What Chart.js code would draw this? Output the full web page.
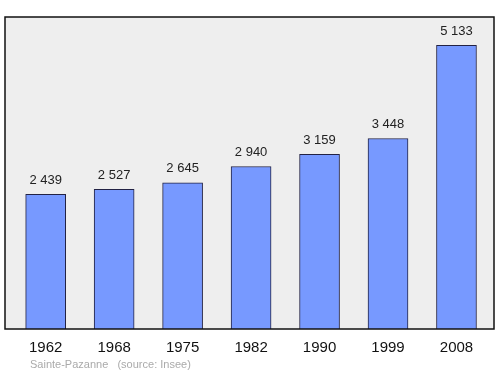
<!DOCTYPE html>
<html>
<head>
<meta charset="utf-8">
<script src="https://cdn.jsdelivr.net/npm/chart.js@4/dist/chart.umd.min.js"></script>
<style>
html,body{margin:0;padding:0;background:#fff;}
#wrap{width:500px;height:374px;position:relative;}
</style>
</head>
<body>
<div id="wrap"><canvas id="c" width="500" height="374"></canvas></div>
<script>
const years = ["1962", "1968", "1975", "1982", "1990", "1999", "2008"];
const population = [2439, 2527, 2645, 2940, 3159, 3448, 5133];
const valueLabels = ["2 439", "2 527", "2 645", "2 940", "3 159", "3 448", "5 133"];
const sourceText = "Sainte-Pazanne   (source: Insee)";

const FONT = "'Liberation Sans', Arial, sans-serif";

const plotBg = {
  id: 'plotBg',
  beforeDraw(chart) {
    const {ctx, chartArea: a} = chart;
    ctx.save();
    ctx.fillStyle = '#eeeeee';
    ctx.fillRect(a.left, a.top, a.right - a.left, a.bottom - a.top);
    ctx.restore();
  },
  afterDraw(chart) {
    const {ctx, chartArea: a} = chart;
    ctx.save();
    ctx.strokeStyle = '#111';
    ctx.lineWidth = 1.5;
    ctx.strokeRect(a.left, a.top, a.right - a.left, a.bottom - a.top);
    const meta = chart.getDatasetMeta(0);
    ctx.fillStyle = '#222';
    ctx.font = "13px " + FONT;
    ctx.textAlign = 'center';
    ctx.textBaseline = 'middle';
    meta.data.forEach((bar, i) => {
      ctx.fillText(valueLabels[i], bar.x, bar.y - 14);
    });
    ctx.fillStyle = '#aaaaaa';
    ctx.font = "11px " + FONT;
    ctx.textAlign = 'left';
    ctx.fillText(sourceText, 30, 365);
    ctx.restore();
  }
};

new Chart(document.getElementById('c'), {
  type: 'bar',
  data: {
    datasets: [{
      data: population.map((v, i) => ({x: i, y: v})),
      backgroundColor: '#7799ff',
      borderColor: '#222244',
      borderWidth: 1,
      barThickness: 40
    }]
  },
  options: {
    responsive: false,
    animation: false,
    devicePixelRatio: 1,
    layout: {padding: {left: 5, right: 6, top: 17, bottom: 0}},
    plugins: {legend: {display: false}, tooltip: {enabled: false}},
    scales: {
      x: {
        type: 'linear',
        offset: false,
        min: -0.594,
        max: 6.548,
        grid: {display: false, offset: false},
        border: {display: false},
        afterBuildTicks(scale) {
          scale.ticks = years.map((y, i) => ({value: i}));
        },
        afterFit(scale) { scale.height = 45; },
        ticks: {
          autoSkip: false,
          maxRotation: 0,
          padding: 2,
          color: '#111',
          font: {family: FONT, size: 15},
          callback: (v) => years[v]
        }
      },
      y: {
        display: false,
        min: 0,
        max: 5646.3
      }
    }
  },
  plugins: [plotBg]
});
</script>
</body>
</html>
